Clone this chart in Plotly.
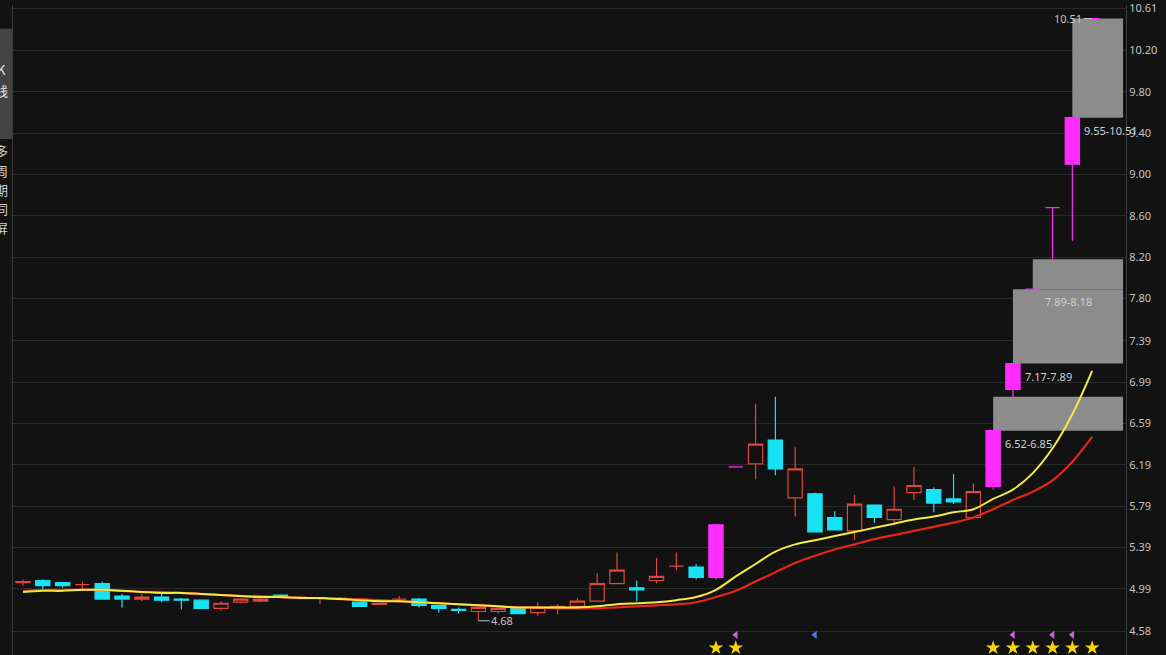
import plotly.graph_objects as go

# ---------------- data ----------------
opens = [5.05, 5.07, 5.05, 5.03, 5.04, 4.92, 4.89, 4.91, 4.89, 4.88,
         4.80, 4.86, 4.87, 4.93, 4.91, 4.90, 4.90, 4.86, 4.84, 4.89,
         4.89, 4.83, 4.79, 4.77, 4.77, 4.80, 4.76, 4.81, 4.82, 4.87,
         5.04, 5.00, 5.07, 5.21, 5.20, 5.10, 6.17, 6.20, 6.43, 5.87,
         5.91, 5.68, 5.55, 5.80, 5.66, 5.92, 5.95, 5.86, 5.68, 5.98,
         6.92, 7.89, 8.68, 9.10, 10.51]
highs = [5.08, 5.08, 5.05, 5.06, 5.06, 4.94, 4.94, 4.94, 4.90, 4.88,
         4.87, 4.90, 4.90, 4.93, 4.92, 4.91, 4.91, 4.86, 4.85, 4.92,
         4.90, 4.83, 4.81, 4.81, 4.81, 4.81, 4.86, 4.84, 4.90, 5.14,
         5.34, 5.07, 5.29, 5.34, 5.23, 5.61, 6.17, 6.78, 6.85, 6.36,
         5.92, 5.74, 5.90, 5.80, 5.98, 6.17, 5.97, 6.10, 6.01, 6.52,
         7.17, 7.89, 8.68, 9.55, 10.51]
lows = [5.02, 4.98, 5.00, 4.99, 4.89, 4.81, 4.87, 4.86, 4.79, 4.80,
        4.78, 4.85, 4.86, 4.91, 4.90, 4.84, 4.89, 4.82, 4.84, 4.86,
        4.81, 4.76, 4.75, 4.68, 4.75, 4.75, 4.73, 4.74, 4.82, 4.87,
        5.04, 4.87, 5.04, 5.17, 5.08, 5.08, 6.17, 6.05, 6.09, 5.69,
        5.54, 5.56, 5.46, 5.63, 5.62, 5.85, 5.73, 5.81, 5.67, 5.95,
        6.85, 7.89, 8.18, 8.36, 10.51]
closes = [5.06, 5.02, 5.02, 5.03, 4.89, 4.89, 4.91, 4.88, 4.88, 4.80,
          4.85, 4.89, 4.89, 4.91, 4.91, 4.90, 4.90, 4.82, 4.85, 4.89,
          4.83, 4.80, 4.78, 4.81, 4.80, 4.75, 4.81, 4.82, 4.87, 5.04,
          5.17, 4.98, 5.11, 5.21, 5.10, 5.61, 6.17, 6.39, 6.15, 6.15,
          5.54, 5.56, 5.81, 5.68, 5.76, 5.99, 5.82, 5.83, 5.93, 6.52,
          7.17, 7.89, 8.68, 9.55, 10.51]

ma_yellow = [4.96, 4.97, 4.97, 4.98, 4.98, 4.97, 4.96, 4.95, 4.95, 4.94,
             4.93, 4.92, 4.91, 4.91, 4.90, 4.90, 4.89, 4.88, 4.87, 4.87,
             4.86, 4.85, 4.84, 4.83, 4.82, 4.81, 4.81, 4.81, 4.81, 4.82,
             4.84, 4.85, 4.86, 4.88, 4.91, 4.98, 5.11, 5.23, 5.35, 5.42,
             5.46, 5.50, 5.54, 5.58, 5.62, 5.66, 5.69, 5.73, 5.76, 5.86,
             5.95, 6.11, 6.35, 6.68, 7.10]
ma_red = [4.97, 4.98, 4.98, 4.98, 4.98, 4.97, 4.96, 4.96, 4.95, 4.94,
          4.93, 4.92, 4.92, 4.91, 4.90, 4.90, 4.89, 4.89, 4.88, 4.87,
          4.86, 4.85, 4.84, 4.83, 4.82, 4.81, 4.81, 4.80, 4.80, 4.80,
          4.81, 4.82, 4.83, 4.84, 4.86, 4.91, 4.97, 5.06, 5.15, 5.24,
          5.31, 5.37, 5.42, 5.47, 5.51, 5.55, 5.59, 5.63, 5.68, 5.76,
          5.85, 5.93, 6.04, 6.22, 6.46]

y_ticks = [4.58, 4.99, 5.39, 5.79, 6.19, 6.59, 6.99, 7.39, 7.80, 8.20,
           8.60, 9.00, 9.40, 9.80, 10.20, 10.61]

flag_magenta = [36, 50, 52, 53]
flag_blue = [40]

side_top = ["K", "线"]
side_bottom = ["多", "周", "期", "同", "屏"]

# ---------------- styling ----------------
BG = "#121212"
RED = "#e0473d"
CYAN = "#18e3f5"
MAGENTA = "#ff2bff"
YELLOW = "#f2ec42"
MA_RED = "#e3261c"
GRID = "#292929"
TXT = "#c4c4c4"
GAP_FILL = "#8c8c8c"
FONT = "Noto Sans, DejaVu Sans, sans-serif"
CJK = "Noto Sans CJK SC, Noto Sans, sans-serif"

W, H = 1166, 655
ML, MR = 13, 40
x_range = [-0.505, 55.71]
y_range = [4.349, 10.641]

n = len(closes)
idx = list(range(n))
limit_up = [i for i in idx if i > 0 and closes[i] >= closes[i - 1] * 1.1 - 0.01]
up = [i for i in idx if i not in limit_up and closes[i] >= opens[i]]
down = [i for i in idx if i not in limit_up and closes[i] < opens[i]]


def candle(ids, line_color, fill):
    side = dict(line=dict(color=line_color, width=1.2), fillcolor=fill)
    return go.Candlestick(
        x=ids,
        open=[opens[i] for i in ids],
        high=[highs[i] for i in ids],
        low=[lows[i] for i in ids],
        close=[closes[i] for i in ids],
        increasing=side,
        decreasing=side,
        whiskerwidth=0,
        hoverinfo="skip",
        showlegend=False,
    )


fig = go.Figure()
fig.add_trace(candle(up, RED, "rgba(0,0,0,0)"))
fig.add_trace(candle(down, CYAN, CYAN))
fig.add_trace(candle(limit_up, MAGENTA, MAGENTA))

fig.add_trace(go.Scatter(x=idx, y=ma_red, mode="lines",
                         line=dict(color=MA_RED, width=2.2, shape="spline"),
                         hoverinfo="skip", showlegend=False))
fig.add_trace(go.Scatter(x=idx, y=ma_yellow, mode="lines",
                         line=dict(color=YELLOW, width=2, shape="spline"),
                         hoverinfo="skip", showlegend=False))

# signal row markers (on an overlay axis spanning the plot height)
STAR_ROW, FLAG_ROW = 0.011, 0.031
fig.add_trace(go.Scatter(x=limit_up, y=[STAR_ROW] * len(limit_up), yaxis="y2",
                         mode="markers",
                         marker=dict(symbol="star", size=11, color="#f6d60a",
                                     line=dict(width=0)),
                         hoverinfo="skip", showlegend=False))
fig.add_trace(go.Scatter(x=flag_magenta, y=[FLAG_ROW] * len(flag_magenta), yaxis="y2",
                         mode="markers",
                         marker=dict(symbol="triangle-left", size=7, color="#d35be6",
                                     line=dict(width=0)),
                         hoverinfo="skip", showlegend=False))
fig.add_trace(go.Scatter(x=flag_blue, y=[FLAG_ROW] * len(flag_blue), yaxis="y2",
                         mode="markers",
                         marker=dict(symbol="triangle-left", size=7, color="#4a7fe6",
                                     line=dict(width=0)),
                         hoverinfo="skip", showlegend=False))

# ---------------- unfilled gaps ----------------
shapes = []
annotations = []
for i in range(n - 1):
    if lows[i + 1] > highs[i]:
        lo, hi = highs[i], lows[i + 1]
        if all(lows[j] > lo for j in range(i + 2, n)):
            shapes.append(dict(type="rect", xref="x", yref="y",
                               x0=i, x1=x_range[1] - 0.15, y0=lo, y1=hi,
                               fillcolor=GAP_FILL, line=dict(width=0),
                               layer="between"))
            annotations.append(dict(x=i, y=lo, xref="x", yref="y",
                                    text=f"{lo:.2f}-{hi:.2f}", showarrow=False,
                                    xanchor="left", yanchor="top",
                                    xshift=10, yshift=-3,
                                    font=dict(family=FONT, size=11, color="#cfcfcf")))

# min / max labels
imin = lows.index(min(lows))
imax = highs.index(max(highs))
annotations.append(dict(x=imin, y=lows[imin], xref="x", yref="y",
                        text=f"{lows[imin]:.2f}", showarrow=True, arrowhead=0,
                        arrowwidth=1, arrowcolor=TXT, ax=24, ay=0,
                        font=dict(family=FONT, size=11, color=TXT)))
annotations.append(dict(x=imax, y=highs[imax], xref="x", yref="y",
                        text=f"{highs[imax]:.2f}", showarrow=True, arrowhead=0,
                        arrowwidth=1, arrowcolor=TXT, ax=-24, ay=0,
                        font=dict(family=FONT, size=11, color=TXT)))

# ---------------- left side panel ----------------
pw = W - ML - MR


def px_x(px):
    return (px - ML) / pw


def px_y(py):
    return 1 - py / H


shapes.append(dict(type="rect", xref="paper", yref="paper",
                   x0=px_x(0), x1=px_x(12), y0=px_y(135), y1=px_y(24),
                   fillcolor="#444444", line=dict(width=0), layer="above"))
shapes.append(dict(type="line", xref="paper", yref="paper",
                   x0=px_x(12.5), x1=px_x(12.5), y0=0, y1=1,
                   line=dict(color="#3c3c3c", width=1)))
for k, ch in enumerate(side_top):
    annotations.append(dict(x=px_x(1.5), y=px_y(65 + 21 * k), xref="paper", yref="paper",
                            text=ch, showarrow=False, xanchor="center", yanchor="middle",
                            font=dict(family=CJK, size=13, color="#e6e6e6")))
for k, ch in enumerate(side_bottom):
    annotations.append(dict(x=px_x(1.5), y=px_y(147 + 19.3 * k), xref="paper", yref="paper",
                            text=ch, showarrow=False, xanchor="center", yanchor="middle",
                            font=dict(family=CJK, size=13, color="#cfcfcf")))

fig.update_layout(
    width=W, height=H,
    margin=dict(l=ML, r=MR, t=0, b=0, pad=0),
    paper_bgcolor=BG, plot_bgcolor=BG,
    hovermode=False, showlegend=False,
    boxgap=0.28, boxgroupgap=0,
    shapes=shapes, annotations=annotations,
    xaxis=dict(range=x_range, showgrid=False, zeroline=False, showticklabels=False,
               showline=False, ticks="", rangeslider=dict(visible=False), fixedrange=True),
    yaxis=dict(range=y_range, side="right", tickvals=y_ticks,
               ticktext=[f"{v:.2f}" for v in y_ticks],
               showgrid=True, gridcolor=GRID, gridwidth=1, zeroline=False,
               showline=True, linecolor="#3c3c3c", linewidth=1, ticks="",
               ticklabeloverflow="allow",
               tickfont=dict(family=FONT, size=11, color=TXT), fixedrange=True),
    yaxis2=dict(range=[0, 1], overlaying="y", visible=False, fixedrange=True),
)

fig.write_html(
    "out.html",
    config={"displayModeBar": False},
    post_script="document.body.style.margin='0';document.body.style.background='#121212';",
)
